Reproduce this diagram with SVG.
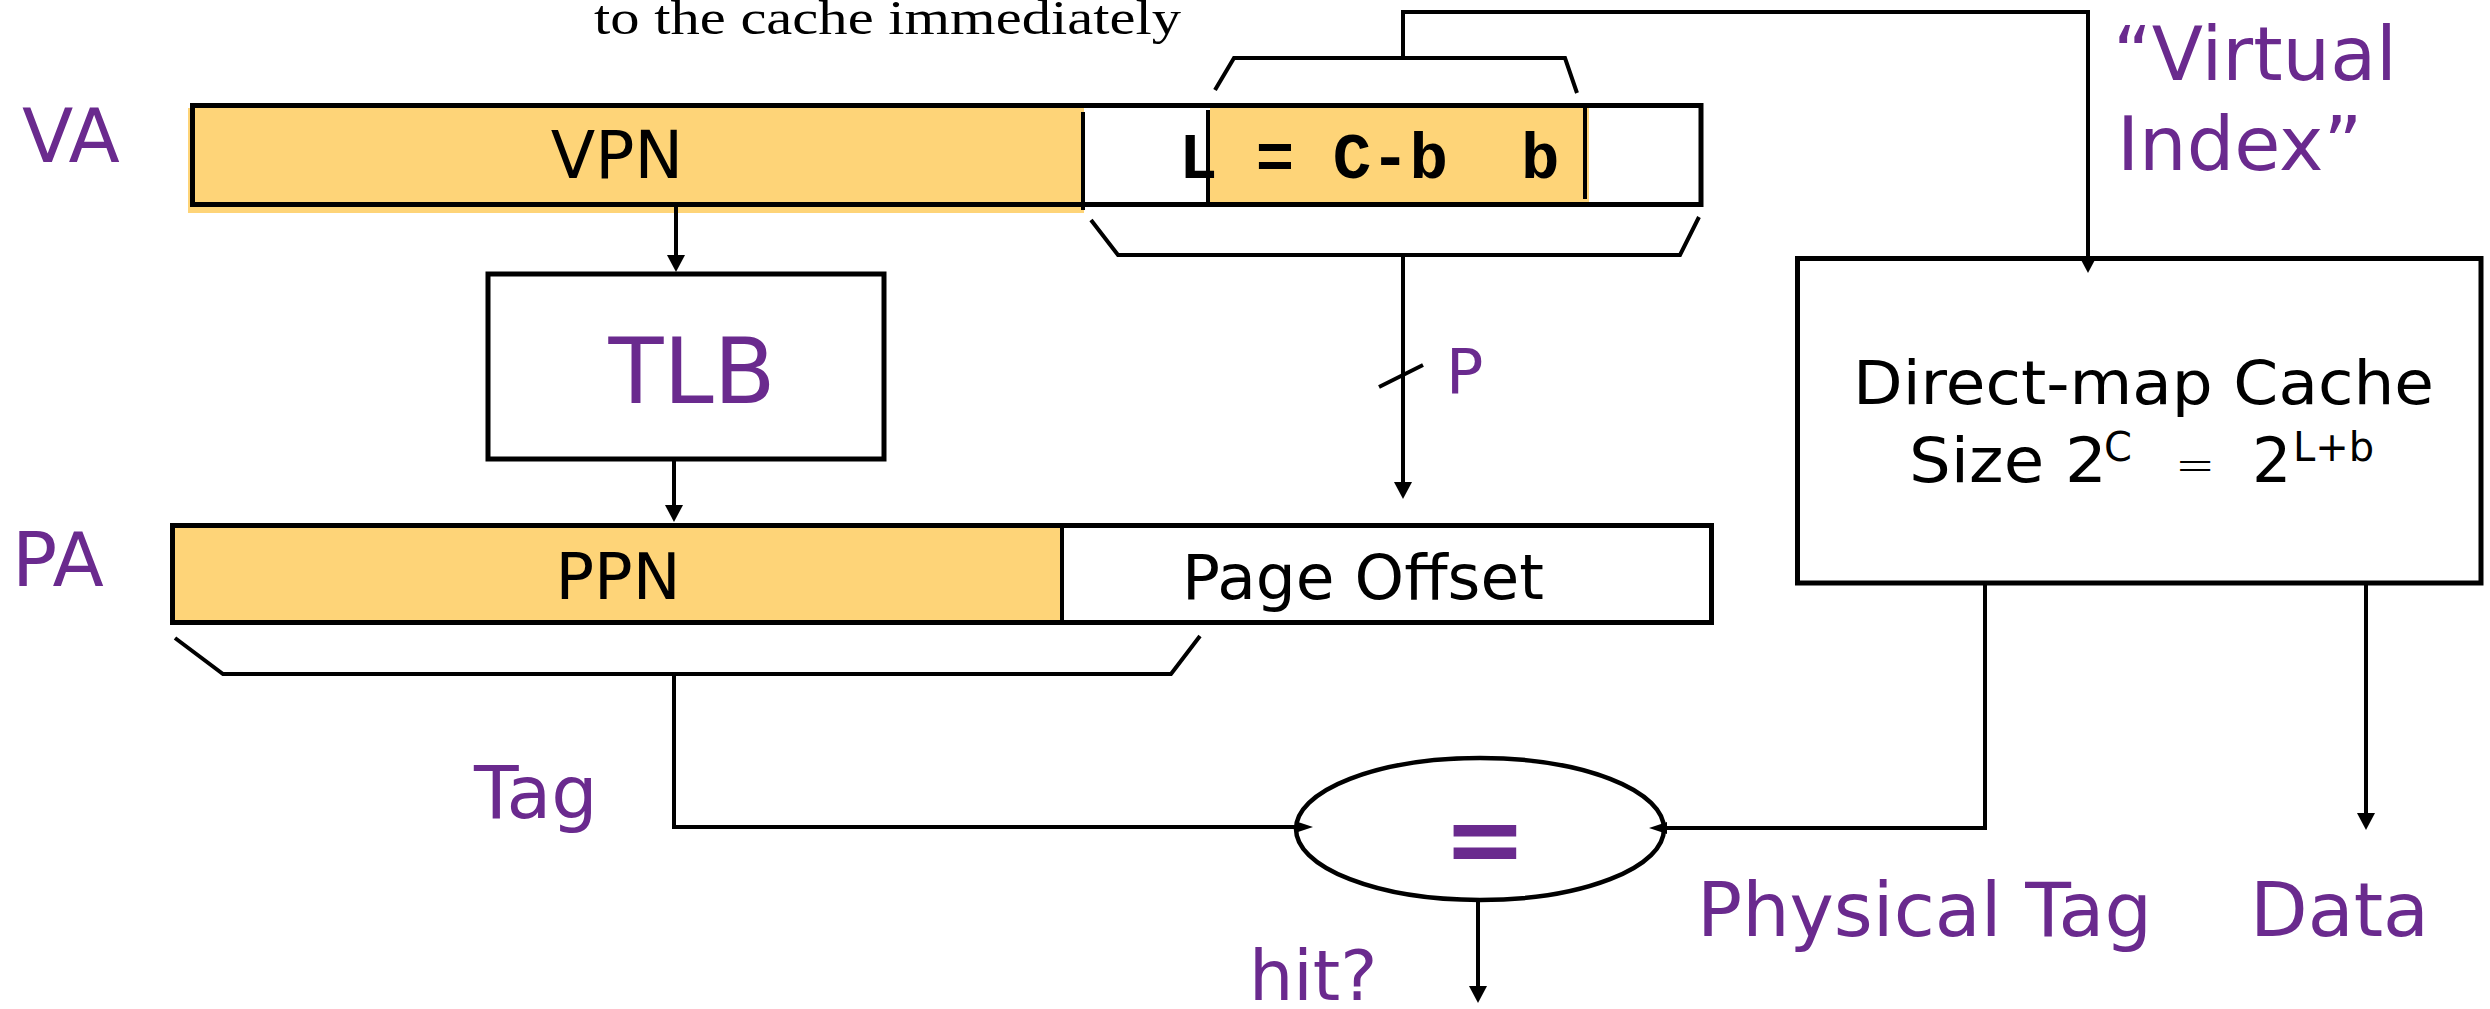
<svg xmlns="http://www.w3.org/2000/svg" width="2490" height="1009" viewBox="0 0 2490 1009">
  <style>
    .sans { font-family: "DejaVu Sans", Verdana, sans-serif; }
    .mono { font-family: "Liberation Mono", "Courier New", monospace; font-weight: bold; }
    .serif { font-family: "Liberation Serif", "Times New Roman", serif; }
    .purple { fill: #6A2A8E; }
    .ink { fill: #000; }
    .box { fill: #fff; stroke: #000; stroke-width: 5; }
    .frame { fill: none; stroke: #000; stroke-width: 5; }
    .field { fill: #FED478; }
    .rule { stroke: #000; stroke-width: 4; fill: none; }
    .wire { stroke: #000; stroke-width: 4; fill: none; stroke-linejoin: miter; }
  </style>
  <defs>
    <marker id="arrow" viewBox="0 0 17 18" markerWidth="17" markerHeight="18" refX="9" refY="9" orient="auto" markerUnits="userSpaceOnUse">
      <path d="M0,0 L17,9 L0,18 z" fill="#000"/>
    </marker>
    <marker id="arrow-sm" viewBox="0 0 18 12" markerWidth="18" markerHeight="12" refX="10" refY="6" orient="auto" markerUnits="userSpaceOnUse">
      <path d="M0,0 L18,6 L0,12 z" fill="#000"/>
    </marker>
  </defs>

  <rect width="2490" height="1009" fill="#fff"/>

  <!-- caption fragment at the top edge -->
  <text class="serif ink" x="594" y="34" font-size="48" textLength="587" lengthAdjust="spacingAndGlyphs">to the cache immediately</text>

  <!-- virtual address -->
  <g id="va">
    <text class="sans purple" x="22" y="162" font-size="75">VA</text>
    <rect x="192.5" y="105.5" width="1508.5" height="99" fill="#fff"/>
    <rect class="field" x="188" y="108" width="896" height="105"/>
    <rect class="field" x="1210" y="108" width="379" height="94"/>
    <rect class="frame" x="192.5" y="105.5" width="1508.5" height="99"/>
    <line class="rule" x1="1083" y1="112" x2="1083" y2="210"/>
    <line class="rule" x1="1208" y1="110" x2="1208" y2="202"/>
    <line class="rule" x1="1585" y1="108" x2="1585" y2="199"/>
    <text class="sans ink" x="617" y="178" font-size="65" text-anchor="middle">VPN</text>
    <text class="mono ink" x="1179" y="178" font-size="64">L = C-b<tspan x="1521">b</tspan></text>
    <!-- index field bracket (above) and page offset bracket (below) -->
    <polyline class="rule" points="1215,90 1234,58 1565,58 1577,93"/>
    <polyline class="rule" points="1091,220 1118,255 1680,255 1699,217"/>
  </g>

  <!-- TLB -->
  <g id="tlb">
    <rect class="box" x="488" y="274" width="396" height="185"/>
    <text class="sans purple" x="692" y="403" font-size="90" text-anchor="middle">TLB</text>
  </g>

  <!-- physical address -->
  <g id="pa">
    <text class="sans purple" x="12" y="586" font-size="75">PA</text>
    <rect x="172.5" y="525.5" width="1539" height="97" fill="#fff"/>
    <rect class="field" x="170" y="528" width="892" height="94"/>
    <rect class="frame" x="172.5" y="525.5" width="1539" height="97"/>
    <line class="rule" x1="1062" y1="525" x2="1062" y2="623"/>
    <text class="sans ink" x="618" y="599" font-size="64" text-anchor="middle">PPN</text>
    <text class="sans ink" x="1363" y="599" font-size="63" text-anchor="middle">Page Offset</text>
    <polyline class="rule" points="175,638 223,674 1171,674 1200,636"/>
  </g>

  <!-- cache -->
  <g id="cache">
    <rect class="box" x="1797.5" y="258.5" width="683.5" height="324.5"/>
    <text class="sans ink" x="1853" y="404" font-size="61" textLength="581" lengthAdjust="spacingAndGlyphs">Direct-map Cache</text>
    <text class="sans ink" x="1909" y="482" font-size="63" textLength="198" lengthAdjust="spacingAndGlyphs">Size 2</text>
    <text class="sans ink" x="2104" y="461" font-size="40">C</text>
    <text class="sans ink" x="2175" y="481" font-size="48" font-weight="200">=</text>
    <text class="sans ink" x="2252" y="482" font-size="62">2</text>
    <text class="sans ink" x="2293" y="461" font-size="40">L+b</text>
  </g>

  <!-- tag comparator -->
  <g id="compare">
    <ellipse cx="1480" cy="829" rx="184" ry="71" fill="#fff" stroke="#000" stroke-width="4.5"/>
    <text class="sans purple" x="1485" y="873" font-size="100" font-weight="bold" text-anchor="middle">=</text>
  </g>

  <!-- labels -->
  <g id="labels">
    <text class="sans purple" x="1446" y="393" font-size="62">P</text>
    <text class="sans purple" x="474" y="818" font-size="73">Tag</text>
    <text class="sans purple" x="1249" y="1000" font-size="70">hit?</text>
    <text class="sans purple" x="2113" y="80" font-size="75">“Virtual</text>
    <text class="sans purple" x="2117" y="170" font-size="75">Index”</text>
    <text class="sans purple" x="1697" y="936" font-size="75" textLength="455" lengthAdjust="spacingAndGlyphs">Physical Tag</text>
    <text class="sans purple" x="2250" y="936" font-size="75">Data</text>
  </g>

  <!-- connectors -->
  <g id="connectors">
    <path class="wire" d="M676,207 V264" marker-end="url(#arrow)"/>
    <path class="wire" d="M674,461 V514" marker-end="url(#arrow)"/>
    <path class="wire" d="M1403,255 V491" marker-end="url(#arrow)"/>
    <line class="rule" x1="1379" y1="387" x2="1423" y2="365"/>
    <path class="wire" d="M1403,58 V12 H2088 V265" marker-end="url(#arrow)"/>
    <path class="wire" d="M2366,585 V822" marker-end="url(#arrow)"/>
    <path class="wire" d="M674,674 V827 H1305" marker-end="url(#arrow-sm)"/>
    <path class="wire" d="M1985,585 V828 H1657" marker-end="url(#arrow-sm)"/>
    <path class="wire" d="M1478,902 V995" marker-end="url(#arrow)"/>
  </g>
</svg>
